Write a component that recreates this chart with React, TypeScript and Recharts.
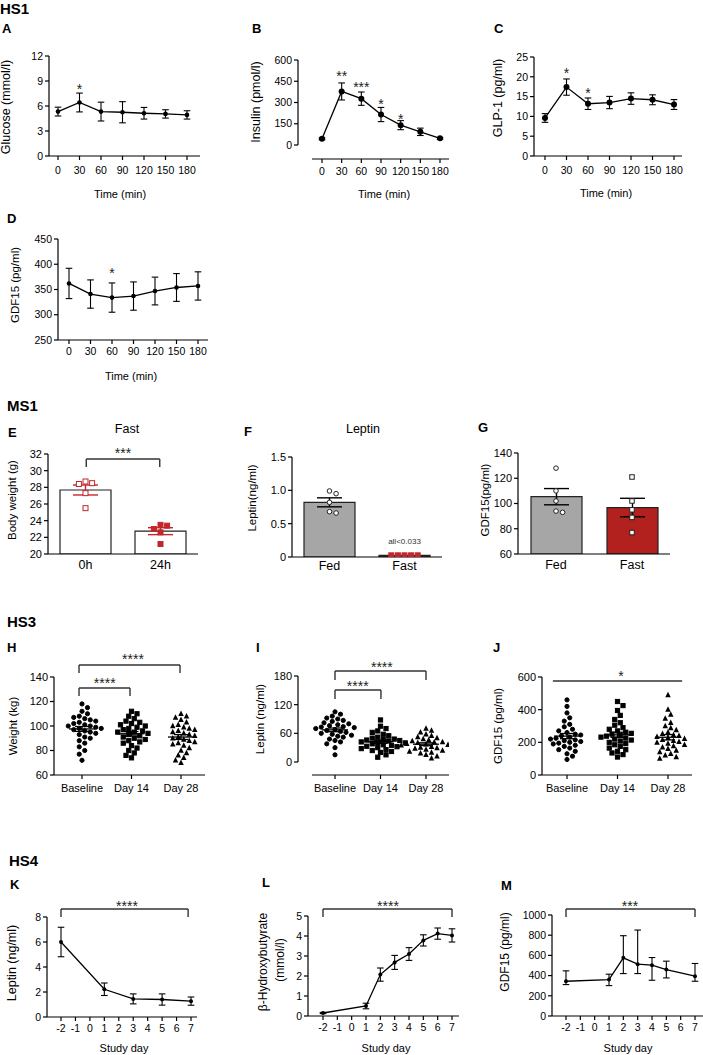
import React from 'react';
import {
  ComposedChart, Line, Bar, Scatter, XAxis, YAxis, ErrorBar, ReferenceLine, ReferenceDot, Cell,
} from 'recharts';

const FONT = '"Liberation Sans", Arial, Helvetica, sans-serif';
const RED = '#c1272d';
const DARK_RED = '#b3211f';
const GREY = '#a6a6a6';

// ---- HS1: OGTT time course ----
const timeMin = [0, 30, 60, 90, 120, 150, 180];
const glucoseMean = [5.33, 6.42, 5.33, 5.25, 5.13, 5.05, 4.93];
const glucoseSem = [0.53, 1.13, 1.13, 1.27, 0.7, 0.5, 0.5];
const insulinMean = [44, 378, 327, 215, 140, 93, 47];
const insulinSem = [6, 60, 47, 50, 32, 26, 6];
const glp1Mean = [9.6, 17.4, 13.2, 13.5, 14.5, 14.2, 13.0];
const glp1Sem = [1.1, 2.05, 1.45, 1.55, 1.45, 1.25, 1.25];
const gdf15OgttMean = [362, 341, 334, 337, 347, 354, 357];
const gdf15OgttSem = [30, 28, 29, 28, 27.5, 27.5, 28];
const glucoseStars = [{ x: 30, y: 8.04, t: '*' }];
const insulinStars = [
  { x: 30, y: 487, t: '**' }, { x: 60, y: 409, t: '***' },
  { x: 90, y: 289, t: '*' }, { x: 120, y: 184, t: '*' },
];
const glp1Stars = [{ x: 30, y: 21.0, t: '*' }, { x: 60, y: 15.9, t: '*' }];
const gdf15OgttStars = [{ x: 60, y: 382, t: '*' }];

// ---- MS1: mice fed / fasted ----
const fastTimes = ['0h', '24h'];
const weight0h = [28.7, 28.4, 28.5, 27.3, 25.5];
const weight24h = [23.5, 23.4, 23.0, 22.6, 21.2];
const fedFast = ['Fed', 'Fast'];
const leptinFed = [0.95, 0.99, 0.82, 0.66, 0.68];
const leptinFasted = [0.025, 0.025, 0.025, 0.025, 0.025];
const gdf15Fed = [128, 110, 102, 93, 94];
const gdf15Fasted = [121, 102, 95, 89, 77];

// ---- HS3: diet study ----
const visitGroups = ['Baseline', 'Day 14', 'Day 28'];
const weightBaseline = [118, 115, 112, 110, 108, 107, 106, 105, 104, 103, 102, 101, 100, 100, 99, 98, 98, 97, 96, 95, 94, 93, 91, 90, 88, 86, 83, 80, 77, 72];
const weightDay14 = [112, 110, 108, 106, 104, 103, 102, 101, 100, 99, 98, 97, 96, 95, 95, 94, 93, 92, 91, 90, 89, 88, 87, 86, 84, 82, 80, 78, 76, 74];
const weightDay28 = [110, 108, 107, 105, 103, 101, 100, 99, 98, 97, 96, 95, 94, 93, 92, 91, 90, 89, 88, 87, 86, 85, 84, 82, 80, 78, 76, 74, 72, 70];
const leptinBaseline = [105, 100, 96, 92, 90, 87, 85, 82, 80, 78, 76, 74, 73, 72, 70, 68, 66, 64, 62, 60, 58, 56, 54, 52, 48, 45, 42, 38, 30, 15];
const leptinDay14 = [88, 75, 70, 65, 62, 58, 55, 52, 50, 48, 47, 46, 45, 44, 42, 41, 40, 38, 36, 35, 33, 32, 30, 28, 26, 24, 22, 20, 15, 10];
const leptinDay28 = [70, 66, 62, 58, 55, 52, 50, 48, 46, 44, 42, 41, 40, 38, 37, 36, 35, 34, 32, 30, 29, 28, 26, 24, 22, 20, 18, 15, 12, 8];
const gdf15Baseline = [460, 420, 380, 350, 330, 310, 295, 280, 270, 260, 250, 245, 240, 232, 225, 220, 215, 210, 205, 200, 195, 190, 182, 175, 165, 155, 145, 130, 115, 95];
const gdf15Day14 = [450, 425, 395, 365, 340, 320, 305, 290, 280, 270, 262, 255, 250, 244, 238, 232, 226, 220, 214, 208, 200, 192, 185, 175, 165, 155, 145, 135, 125, 110];
const gdf15Day28 = [490, 400, 370, 345, 320, 300, 288, 275, 262, 252, 245, 240, 234, 228, 222, 215, 210, 204, 198, 192, 185, 178, 170, 160, 150, 140, 130, 120, 110, 100];

// ---- HS4: prolonged fast ----
const dayTicks = [-2, -1, 0, 1, 2, 3, 4, 5, 6, 7];
const studyDayK = [-2, 1, 3, 5, 7];
const leptinFastMean = [6.0, 2.22, 1.45, 1.4, 1.27];
const leptinFastSem = [1.18, 0.5, 0.4, 0.45, 0.33];
const studyDayL = [-2, 1, 2, 3, 4, 5, 6, 7];
const bhbMean = [0.15, 0.5, 2.07, 2.68, 3.1, 3.78, 4.12, 4.03];
const bhbSem = [0.03, 0.14, 0.33, 0.35, 0.32, 0.28, 0.28, 0.33];
const studyDayM = [-2, 1, 2, 3, 4, 5, 7];
const gdf15FastMean = [344, 361, 576, 513, 503, 460, 394];
const gdf15FastErr = [[33, 103], [60, 53], [156, 219], [93, 338], [149, 76], [83, 83], [50, 126]];

type Box = { l: number; t: number; r: number; b: number };
type Star = { x: number; y: number; t: string };

const YW = 44, MT = 40, MR = 14, XH = 26;

const lin = (p0: number, v0: number, p1: number, v1: number) => (p: number) => v0 + ((p - p0) * (v1 - v0)) / (p1 - p0);

function dom(box: Box, xm: number[], ym: number[]) {
  const fx = lin(xm[0], xm[1], xm[2], xm[3]);
  const fy = lin(ym[0], ym[1], ym[2], ym[3]);
  const x: [number, number] = [fx(box.l), fx(box.r)];
  const y: [number, number] = [fy(box.b), fy(box.t)];
  return { x, y, fx, fy, pxX: (box.r - box.l) / (x[1] - x[0]), pxY: (box.b - box.t) / (y[1] - y[0]) };
}

const mean = (a: number[]) => a.reduce((s, v) => s + v, 0) / a.length;
const sem = (a: number[]) => {
  const m = mean(a);
  return Math.sqrt(a.reduce((s, v) => s + (v - m) ** 2, 0) / (a.length - 1) / a.length);
};

// simple beeswarm: spread points of similar value sideways
function pointsOf(vals: number[], group: number, pxY: number, pxX: number, d: number) {
  const placed: { x: number; y: number }[] = [];
  const offs = new Array(vals.length).fill(0);
  const order = vals.map((_, i) => i).sort((a, b) => vals[b] - vals[a]);
  const step = d * 0.55;
  for (const i of order) {
    const y = vals[i] * pxY;
    for (let k = 0; k < 60; k++) {
      const c = k === 0 ? 0 : (k % 2 ? 1 : -1) * Math.ceil(k / 2) * step;
      if (placed.every((p) => Math.hypot(p.x - c, p.y - y) >= d)) {
        placed.push({ x: c, y });
        offs[i] = c / pxX;
        break;
      }
    }
  }
  return vals.map((v, i) => ({ x: group + offs[i], y: v }));
}

const circle = (fill: string, stroke: string, r: number) => (p: any) => (
  <circle cx={p.cx} cy={p.cy} r={r} fill={fill} stroke={stroke} strokeWidth={1} />
);
const square = (fill: string, stroke: string, s: number) => (p: any) => (
  <rect x={p.cx - s / 2} y={p.cy - s / 2} width={s} height={s} fill={fill} stroke={stroke} strokeWidth={1} />
);
const triangle = (fill: string, s: number) => (p: any) => (
  <polygon points={`${p.cx},${p.cy - s * 0.6} ${p.cx - s / 2},${p.cy + s * 0.4} ${p.cx + s / 2},${p.cy + s * 0.4}`} fill={fill} />
);
const meanTick = (w: number) => (p: any) => (
  <line x1={p.cx - w / 2} x2={p.cx + w / 2} y1={p.cy} y2={p.cy} stroke="#000" strokeWidth={1.3} />
);

function Frame({ box, data, children }: { box: Box; data?: any[]; children: React.ReactNode }) {
  return (
    <div style={{ position: 'absolute', left: box.l - YW, top: box.t - MT }}>
      <ComposedChart
        width={box.r - box.l + YW + MR}
        height={box.b - box.t + MT + XH}
        data={data}
        margin={{ top: MT, right: MR, bottom: 0, left: 0 }}
      >
        {children}
      </ComposedChart>
    </div>
  );
}

const axisLine = { stroke: '#000', strokeWidth: 1.2 };
const tickLine = { stroke: '#000', strokeWidth: 1.2 };

function yAxis(yd: [number, number], yt: number[], fs: number, fmt?: (v: number) => string, line = true) {
  return (
    <YAxis key="ya" type="number" domain={yd} ticks={yt} allowDataOverflow interval={0}
      width={YW} tickSize={4} tickMargin={2} axisLine={line ? axisLine : false}
      tickLine={tickLine} tickFormatter={fmt}
      tick={{ fill: '#000', fontSize: fs, fontFamily: FONT }} />
  );
}

function xAxisNum(xd: [number, number], xt: number[], fs: number, margin: number, fmt?: (v: number) => string, line = true) {
  return (
    <XAxis key="xa" type="number" dataKey="x" domain={xd} ticks={xt} allowDataOverflow interval={0}
      height={XH} tickSize={4} tickMargin={margin} axisLine={line ? axisLine : false}
      tickLine={tickLine} tickFormatter={fmt}
      tick={{ fill: '#000', fontSize: fs, fontFamily: FONT }} />
  );
}

function stars(list: Star[], xAxisId: any = 0, fs = 14) {
  return list.map((s, i) => (
    <ReferenceDot key={`st${i}`} xAxisId={xAxisId} x={s.x} y={s.y} r={0} fill="none" stroke="none" ifOverflow="visible"
      label={{ value: s.t, position: 'center', fontSize: fs, fill: '#222', fontFamily: FONT }} />
  ));
}

function bracket(k: string, x1: number, x2: number, yTop: number, yEnd?: number, xAxisId: any = 0) {
  const st = { stroke: '#333', strokeWidth: 1.4, ifOverflow: 'visible' as const, xAxisId };
  const out = [<ReferenceLine key={k + 'h'} segment={[{ x: x1, y: yTop }, { x: x2, y: yTop }]} {...st} />];
  if (yEnd !== undefined) {
    out.push(<ReferenceLine key={k + 'a'} segment={[{ x: x1, y: yTop }, { x: x1, y: yEnd }]} {...st} />);
    out.push(<ReferenceLine key={k + 'b'} segment={[{ x: x2, y: yTop }, { x: x2, y: yEnd }]} {...st} />);
  }
  return out;
}

// detached axes (GraphPad "offset" style)
function detached(d: ReturnType<typeof dom>, xStartPx: number, yFrom: number, yTo: number) {
  const st = { stroke: '#000', strokeWidth: 1.2, ifOverflow: 'visible' as const };
  return [
    <ReferenceLine key="dx" segment={[{ x: d.fx(xStartPx), y: d.y[0] }, { x: d.x[1], y: d.y[0] }]} {...st} />,
    <ReferenceLine key="dy" segment={[{ x: d.x[0], y: yFrom }, { x: d.x[0], y: yTo }]} {...st} />,
  ];
}

function LinePanel(p: {
  box: Box; xm: number[]; ym: number[]; xs: number[]; ys: number[]; es: any[];
  xt: number[]; yt: number[]; r: number; xMargin: number; starList?: Star[];
  offsetX?: number; extra?: React.ReactNode;
}) {
  const d = dom(p.box, p.xm, p.ym);
  const rows = p.xs.map((x, i) => ({ x, y: p.ys[i], e: p.es[i] }));
  const off = p.offsetX !== undefined;
  return (
    <Frame box={p.box} data={rows}>
      {xAxisNum(d.x, p.xt, 10.5, p.xMargin, undefined, !off)}
      {yAxis(d.y, p.yt, 10.5, undefined, !off)}
      {off && detached(d, p.offsetX as number, p.yt[0], p.yt[p.yt.length - 1])}
      <Line type="linear" dataKey="y" stroke="#000" strokeWidth={1.3} isAnimationActive={false} activeDot={false}
        dot={{ r: p.r, fill: '#000', stroke: '#000', strokeWidth: 0 }}>
        <ErrorBar dataKey="e" direction="y" width={3.3} stroke="#000" strokeWidth={1.1} />
      </Line>
      {p.starList && stars(p.starList)}
      {p.extra}
    </Frame>
  );
}

function BarPanel(p: {
  box: Box; ym: number[]; groups: string[]; sets: number[][]; fills: string[];
  shapes: any[]; yt: number[]; yfmt?: (v: number) => string; errColor: string; xMargin: number;
  extra?: React.ReactNode;
}) {
  const d = dom(p.box, [p.box.l, -0.5, p.box.r, 1.5], p.ym);
  const rows = p.sets.map((s, i) => ({ name: p.groups[i], y: mean(s), e: sem(s) }));
  return (
    <Frame box={p.box} data={rows}>
      <XAxis type="category" dataKey="name" height={XH} tickSize={0} tickMargin={p.xMargin}
        axisLine={axisLine} tickLine={false} interval={0}
        tick={{ fill: '#000', fontSize: 12.5, fontFamily: FONT }} />
      <XAxis xAxisId="n" type="number" dataKey="x" domain={[-0.5, 1.5]} allowDataOverflow hide />
      {yAxis(d.y, p.yt, 11, p.yfmt)}
      <Bar dataKey="y" barSize={51} stroke="#222" strokeWidth={1.2} isAnimationActive={false}>
        {rows.map((_, i) => <Cell key={i} fill={p.fills[i]} />)}
        <ErrorBar dataKey="e" direction="y" width={12.5} stroke={p.errColor} strokeWidth={1.4} />
      </Bar>
      {p.sets.map((s, i) => (
        <Scatter key={`p${i}`} xAxisId="n" data={pointsOf(s, i, d.pxY, d.pxX, 6)} dataKey="y"
          shape={p.shapes[i]} isAnimationActive={false} />
      ))}
      {p.extra}
    </Frame>
  );
}

function DotPanel(p: {
  box: Box; xm: number[]; ym: number[]; sets: number[][]; yt: number[]; offsetX?: number; extra?: React.ReactNode;
}) {
  const d = dom(p.box, p.xm, p.ym);
  const stats = p.sets.map((s, i) => ({ x: i, y: mean(s), e: sem(s) }));
  const shapes = [circle('#000', '#000', 2.1), square('#000', '#000', 4.2), triangle('#000', 5.5)];
  const off = p.offsetX !== undefined;
  return (
    <Frame box={p.box}>
      {xAxisNum(d.x, [0, 1, 2], 11, 5, (v) => visitGroups[v], !off)}
      {yAxis(d.y, p.yt, 11, undefined, !off)}
      {off && detached(d, p.offsetX as number, p.yt[0], p.yt[p.yt.length - 1])}
      {p.sets.map((s, i) => (
        <Scatter key={`g${i}`} data={pointsOf(s, i, d.pxY, d.pxX, 5)} dataKey="y" shape={shapes[i]} isAnimationActive={false} />
      ))}
      <Scatter data={stats} dataKey="y" shape={meanTick(26)} isAnimationActive={false}>
        <ErrorBar dataKey="e" direction="y" width={7} stroke="#000" strokeWidth={1.3} />
      </Scatter>
      {p.extra}
    </Frame>
  );
}

function T({ x, y, s = 11, b = false, rot = false, left = false, children }: {
  x: number; y: number; s?: number; b?: boolean; rot?: boolean; left?: boolean; children: React.ReactNode;
}) {
  return (
    <div style={{
      position: 'absolute', left: x, top: y, fontSize: s, fontWeight: b ? 700 : 400, fontFamily: FONT,
      lineHeight: 1.1, whiteSpace: 'nowrap', color: '#000',
      transform: `translate(${left ? '0' : '-50%'}, -50%)${rot ? ' rotate(-90deg)' : ''}`,
    }}>
      {children}
    </div>
  );
}

export default function App() {
  return (
    <div style={{ position: 'absolute', left: 0, top: 0, width: 703, height: 1055, overflow: 'hidden', background: '#fff' }}>
      {/* HS1 */}
      <LinePanel box={{ l: 49, t: 56, r: 200, b: 156 }} xm={[58, 0, 187, 180]} ym={[156, 0, 56, 12]}
        xs={timeMin} ys={glucoseMean} es={glucoseSem} xt={timeMin} yt={[0, 3, 6, 9, 12]} r={2.3} xMargin={7}
        starList={glucoseStars} />
      <LinePanel box={{ l: 298, t: 60, r: 449, b: 159 }} xm={[322, 0, 440, 180]} ym={[145, 0, 60, 600]}
        xs={timeMin} ys={insulinMean} es={insulinSem} xt={timeMin} yt={[0, 150, 300, 450, 600]} r={3} xMargin={5}
        starList={insulinStars} offsetX={312} />
      <LinePanel box={{ l: 534, t: 57, r: 682, b: 156 }} xm={[545, 0, 674, 180]} ym={[156, 0, 57, 25]}
        xs={timeMin} ys={glp1Mean} es={glp1Sem} xt={timeMin} yt={[0, 5, 10, 15, 20, 25]} r={3} xMargin={7}
        starList={glp1Stars} />
      <LinePanel box={{ l: 58, t: 239, r: 208, b: 340 }} xm={[69, 0, 198, 180]} ym={[340, 250, 239, 450]}
        xs={timeMin} ys={gdf15OgttMean} es={gdf15OgttSem} xt={timeMin} yt={[250, 300, 350, 400, 450]} r={2.3} xMargin={4}
        starList={gdf15OgttStars} />

      {/* MS1 */}
      <BarPanel box={{ l: 48, t: 454, r: 198, b: 554 }} ym={[554, 20, 454, 32]}
        groups={fastTimes} sets={[weight0h, weight24h]} fills={['#fff', '#fff']}
        shapes={[square('#fff', RED, 5), square(RED, RED, 5)]} yt={[20, 22, 24, 26, 28, 30, 32]}
        errColor={RED} xMargin={6}
        extra={[...bracket('e', 0.01, 0.99, 31.4, 30.45, 'n'), ...stars([{ x: 0.5, y: 32.12, t: '***' }], 'n')]} />
      <BarPanel box={{ l: 292, t: 457, r: 442, b: 557 }} ym={[557, 0, 457, 1.5]}
        groups={fedFast} sets={[leptinFed, leptinFasted]} fills={[GREY, DARK_RED]}
        shapes={[circle('#fff', '#222', 2.3), square(RED, RED, 5)]} yt={[0, 0.5, 1, 1.5]}
        yfmt={(v) => (v === 0 ? '0' : v.toFixed(1))} errColor="#000" xMargin={4}
        extra={<ReferenceDot xAxisId="n" x={1} y={0.24} r={0} fill="none" stroke="none" ifOverflow="visible"
          label={{ value: 'all<0.033', position: 'center', fontSize: 8, fill: '#333', fontFamily: FONT }} />} />
      <BarPanel box={{ l: 518, t: 453, r: 670, b: 554 }} ym={[554, 60, 453, 140]}
        groups={fedFast} sets={[gdf15Fed, gdf15Fasted]} fills={[GREY, DARK_RED]}
        shapes={[circle('#fff', '#222', 2.3), square('#fff', '#222', 4.5)]} yt={[60, 80, 100, 120, 140]}
        errColor="#000" xMargin={6} />

      {/* HS3 */}
      <DotPanel box={{ l: 54, t: 677, r: 205, b: 775 }} xm={[82, 0, 181, 2]} ym={[775, 60, 677, 140]}
        sets={[weightBaseline, weightDay14, weightDay28]} yt={[60, 80, 100, 120, 140]}
        extra={[...bracket('hl', -0.06, 1.98, 149.8, 143.3), ...bracket('hs', -0.06, 0.97, 131, 124.5),
          ...stars([{ x: 1.03, y: 154.7, t: '****' }, { x: 0.46, y: 135.1, t: '****' }])]} />
      <DotPanel box={{ l: 298, t: 676, r: 449, b: 775 }} xm={[335, 0, 426, 2]} ym={[762, 0, 676, 180]}
        sets={[leptinBaseline, leptinDay14, leptinDay28]} yt={[0, 60, 120, 180]} offsetX={312}
        extra={[...bracket('il', 0, 2, 190.5, 171.6), ...bracket('is', 0, 1.01, 150.7, 131.9),
          ...stars([{ x: 1.03, y: 198.8, t: '****' }, { x: 0.5, y: 159.1, t: '****' }])]} />
      <DotPanel box={{ l: 542, t: 677, r: 692, b: 775 }} xm={[567, 0, 668, 2]} ym={[775, 0, 677, 600]}
        sets={[gdf15Baseline, gdf15Day14, gdf15Day28]} yt={[0, 200, 400, 600]}
        extra={[...bracket('j', -0.28, 2.28, 575.5), ...stars([{ x: 1.07, y: 606, t: '*' }])]} />

      {/* HS4 */}
      <LinePanel box={{ l: 47, t: 917, r: 197, b: 1017 }} xm={[61, -2, 191, 7]} ym={[1017, 0, 917, 8]}
        xs={studyDayK} ys={leptinFastMean} es={leptinFastSem} xt={dayTicks} yt={[0, 2, 4, 6, 8]} r={2} xMargin={4}
        extra={[...bracket('k', -2, 6.8, 8.64, 8), ...stars([{ x: 2.57, y: 8.88, t: '****' }])]} />
      <LinePanel box={{ l: 308, t: 916, r: 459, b: 1016 }} xm={[323, -2, 452, 7]} ym={[1016, 0, 916, 5]}
        xs={studyDayL} ys={bhbMean} es={bhbSem} xt={dayTicks} yt={[0, 1, 2, 3, 4, 5]} r={2} xMargin={4}
        extra={[...bracket('l', -2, 7, 5.35, 4.95), ...stars([{ x: 2.53, y: 5.5, t: '****' }])]} />
      <LinePanel box={{ l: 552, t: 915, r: 703, b: 1016 }} xm={[566, -2, 695, 7]} ym={[1016, 0, 915, 1000]}
        xs={studyDayM} ys={gdf15FastMean} es={gdf15FastErr} xt={dayTicks} yt={[0, 200, 400, 600, 800, 1000]} r={2} xMargin={4}
        extra={[...bracket('m', -2, 7, 1059, 980), ...stars([{ x: 2.46, y: 1089, t: '***' }])]} />

      {/* section titles and panel letters */}
      <T x={0} y={9} s={15} b left>HS1</T>
      <T x={7} y={406} s={15} b left>MS1</T>
      <T x={7} y={622} s={15} b left>HS3</T>
      <T x={9} y={861} s={15} b left>HS4</T>
      <T x={2} y={29} s={13} b left>A</T>
      <T x={252} y={29} s={13} b left>B</T>
      <T x={494} y={29} s={13} b left>C</T>
      <T x={7} y={219} s={13} b left>D</T>
      <T x={8} y={433} s={13} b left>E</T>
      <T x={244} y={432} s={13} b left>F</T>
      <T x={478} y={428} s={13} b left>G</T>
      <T x={7} y={648} s={13} b left>H</T>
      <T x={256} y={648} s={13} b left>I</T>
      <T x={493} y={648} s={13} b left>J</T>
      <T x={10} y={885} s={13} b left>K</T>
      <T x={262} y={883} s={13} b left>L</T>
      <T x={501} y={886} s={13} b left>M</T>

      {/* axis titles */}
      <T x={120} y={194}>Time (min)</T>
      <T x={384} y={194}>Time (min)</T>
      <T x={606} y={193}>Time (min)</T>
      <T x={131} y={376}>Time (min)</T>
      <T x={124} y={1048}>Study day</T>
      <T x={386} y={1048}>Study day</T>
      <T x={628} y={1048}>Study day</T>

      <T x={7} y={107} s={12.5} rot>Glucose (mmol/l)</T>
      <T x={257} y={102} s={12.5} rot>Insulin (pmol/l)</T>
      <T x={499} y={98} s={12.5} rot>GLP-1 (pg/ml)</T>
      <T x={15} y={285} s={11.5} rot>GDF15 (pg/ml)</T>
      <T x={12} y={500} s={11.5} rot>Body weight (g)</T>
      <T x={252} y={498} s={11.5} rot>Leptin(ng/ml)</T>
      <T x={485} y={500} s={11.5} rot>GDF15(pg/ml)</T>
      <T x={13} y={726} s={11.5} rot>Weight (kg)</T>
      <T x={260} y={719} s={11.5} rot>Leptin (ng/ml)</T>
      <T x={498} y={726} s={11.5} rot>GDF15 (pg/ml)</T>
      <T x={13} y={963} s={12.5} rot>Leptin (ng/ml)</T>
      <T x={264} y={962} s={12} rot>β-Hydroxybutyrate</T>
      <T x={281} y={960} s={12} rot>(mmol/l)</T>
      <T x={506} y={952} s={12} rot>GDF15 (pg/ml)</T>

      {/* panel titles */}
      <T x={127} y={430} s={12.5}>Fast</T>
      <T x={363} y={430} s={12.5}>Leptin</T>
    </div>
  );
}
